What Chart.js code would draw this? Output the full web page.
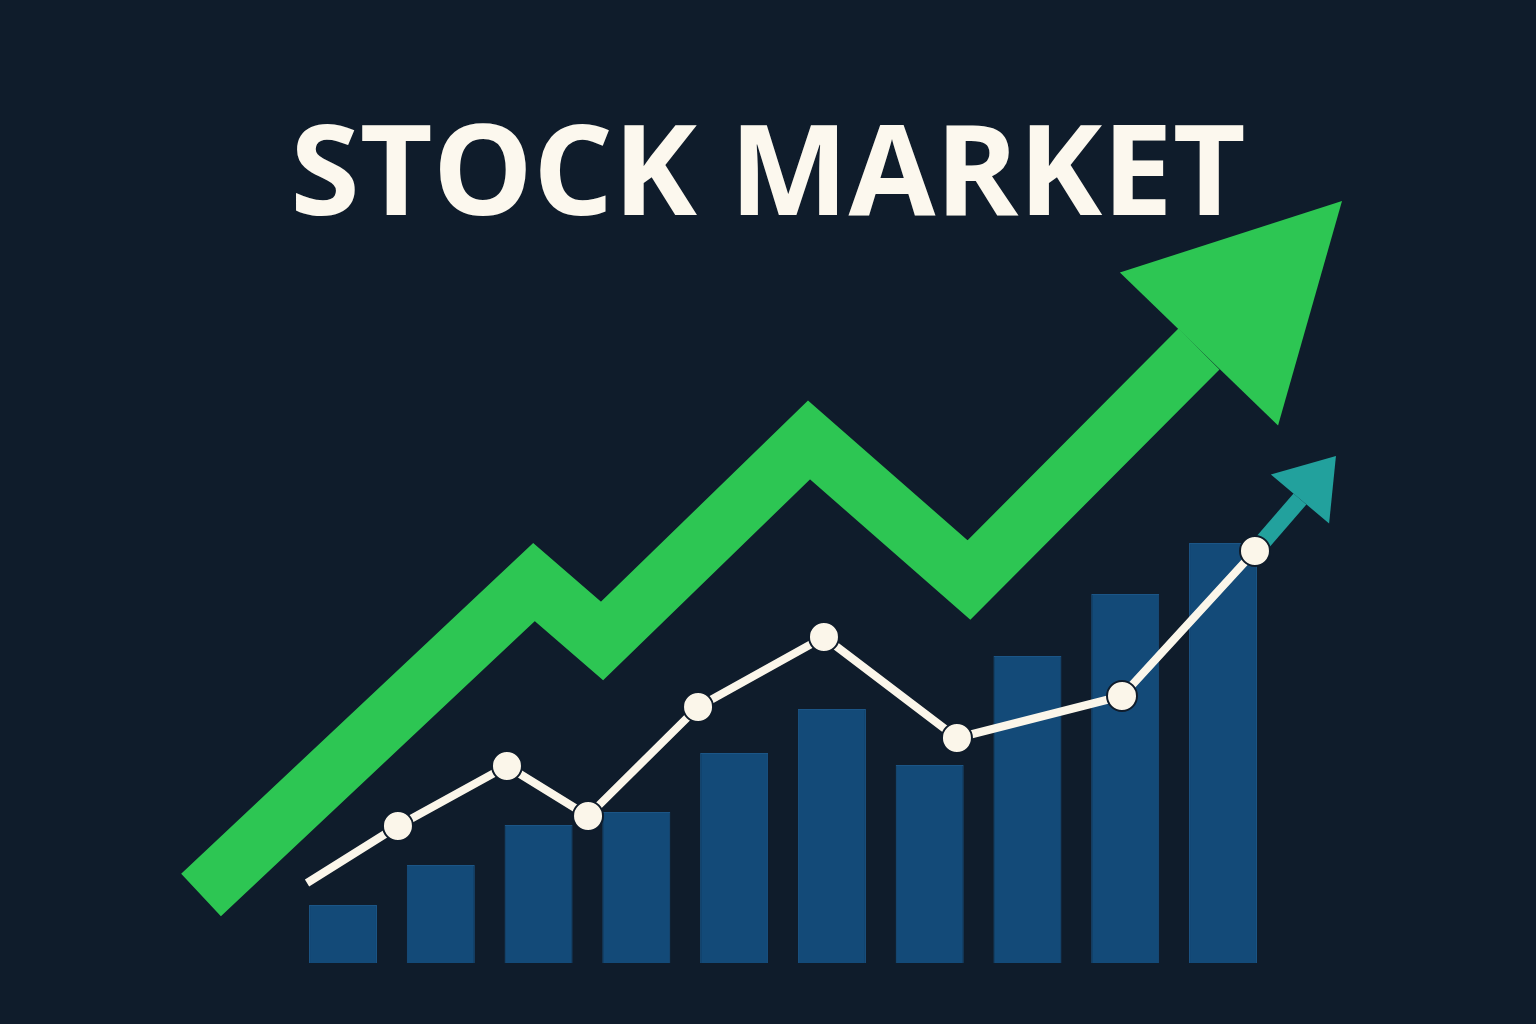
<!DOCTYPE html>
<html>
<head>
<meta charset="utf-8">
<title>Stock Market</title>
<script src="https://cdn.jsdelivr.net/npm/chart.js@4.4.1/dist/chart.umd.min.js"></script>
<style>
    html, body { margin: 0; padding: 0; background: #0f1c2b; }
    canvas { display: block; }
</style>
</head>
<body>
<canvas id="myChart" width="1536" height="1024"></canvas>
<script>
// bar index positions (sessions) and volume-like bar values
const barSessions = [0, 1, 2, 3, 4, 5, 6, 7, 8, 9];
const barValues = [58, 98, 138, 151, 210, 254, 198, 307, 369, 420];

// white price line
const priceSessions = [-0.368, 0.562, 1.677, 2.506, 3.631, 4.919, 6.279, 7.967, 9.327];
const priceValues = [80, 137, 197, 147, 256, 326, 225, 267, 412];

// big green trend arrow (shaft points + tip)
const trendSessions = [-1.452, 1.953, 2.649, 4.766, 6.402, 8.754];
const trendValues = [68, 381, 322, 523, 383, 614];
const trendTip = { x: 10.217, y: 762 };

// small teal arrow continuing the price line
const breakoutSessions = [9.327, 9.787];
const breakoutValues = [412, 464];
const breakoutTip = { x: 10.155, y: 507 };

const toPoints = (xs, ys) => xs.map((x, i) => ({ x: x, y: ys[i] }));

const arrowHeads = {
    id: 'arrowHeads',
    afterDatasetDraw(chart, args) {
        const ds = chart.data.datasets[args.index];
        if (!ds.arrowTip) return;
        const pts = args.meta.data;
        const base = pts[pts.length - 1];
        const tx = chart.scales.x.getPixelForValue(ds.arrowTip.x);
        const ty = chart.scales.y.getPixelForValue(ds.arrowTip.y);
        const dx = tx - base.x, dy = ty - base.y;
        const len = Math.sqrt(dx * dx + dy * dy);
        const nx = -dy / len, ny = dx / len;
        const hw = ds.arrowHalfWidth;
        const ctx = chart.ctx;
        ctx.save();
        ctx.fillStyle = ds.borderColor;
        ctx.beginPath();
        ctx.moveTo(tx, ty);
        ctx.lineTo(base.x + nx * hw, base.y + ny * hw);
        ctx.lineTo(base.x - nx * hw, base.y - ny * hw);
        ctx.closePath();
        ctx.fill();
        ctx.restore();
    }
};

const ctx = document.getElementById('myChart').getContext('2d');
const myChart = new Chart(ctx, {
    type: 'bar',
    data: {
        datasets: [
            {
                type: 'bar',
                data: toPoints(barSessions, barValues),
                backgroundColor: '#134a78',
                borderColor: '#1b5586',
                borderWidth: 1,
                barPercentage: 0.695,
                categoryPercentage: 1,
                order: 4
            },
            {
                type: 'line',
                data: toPoints(trendSessions, trendValues),
                borderColor: '#2dc653',
                borderWidth: 58,
                borderJoinStyle: 'miter',
                borderCapStyle: 'butt',
                pointRadius: 0,
                tension: 0,
                clip: false,
                arrowTip: trendTip,
                arrowHalfWidth: 110,
                order: 3
            },
            {
                type: 'line',
                data: toPoints(breakoutSessions, breakoutValues),
                borderColor: '#22a19d',
                borderWidth: 17,
                borderCapStyle: 'butt',
                pointRadius: 0,
                tension: 0,
                clip: false,
                arrowTip: breakoutTip,
                arrowHalfWidth: 38,
                order: 2
            },
            {
                type: 'line',
                data: toPoints(priceSessions, priceValues),
                borderColor: '#fbf6ea',
                borderWidth: 8,
                borderJoinStyle: 'round',
                pointRadius: [0, 15, 15, 15, 15, 15, 15, 15, 15],
                pointBackgroundColor: '#fbf6ea',
                pointBorderColor: '#0f1c2b',
                pointBorderWidth: 2,
                tension: 0,
                clip: false,
                order: 1
            }
        ]
    },
    options: {
        responsive: false,
        animation: false,
        devicePixelRatio: 1,
        events: [],
        layout: { padding: 0, autoPadding: false },
        plugins: {
            legend: { display: false },
            tooltip: { enabled: false },
            title: {
                display: true,
                text: 'STOCK MARKET',
                color: '#fcf8ee',
                font: { family: '"Open Sans", sans-serif', size: 126, weight: 'bold', lineHeight: 1 },
                padding: { top: 116, bottom: 8 }
            }
        },
        scales: {
            x: { type: 'linear', display: false, min: -3.508, max: 12.201, offset: false },
            y: { display: false, min: -61, max: 713 }
        }
    },
    plugins: [arrowHeads]
});
</script>
</body>
</html>
